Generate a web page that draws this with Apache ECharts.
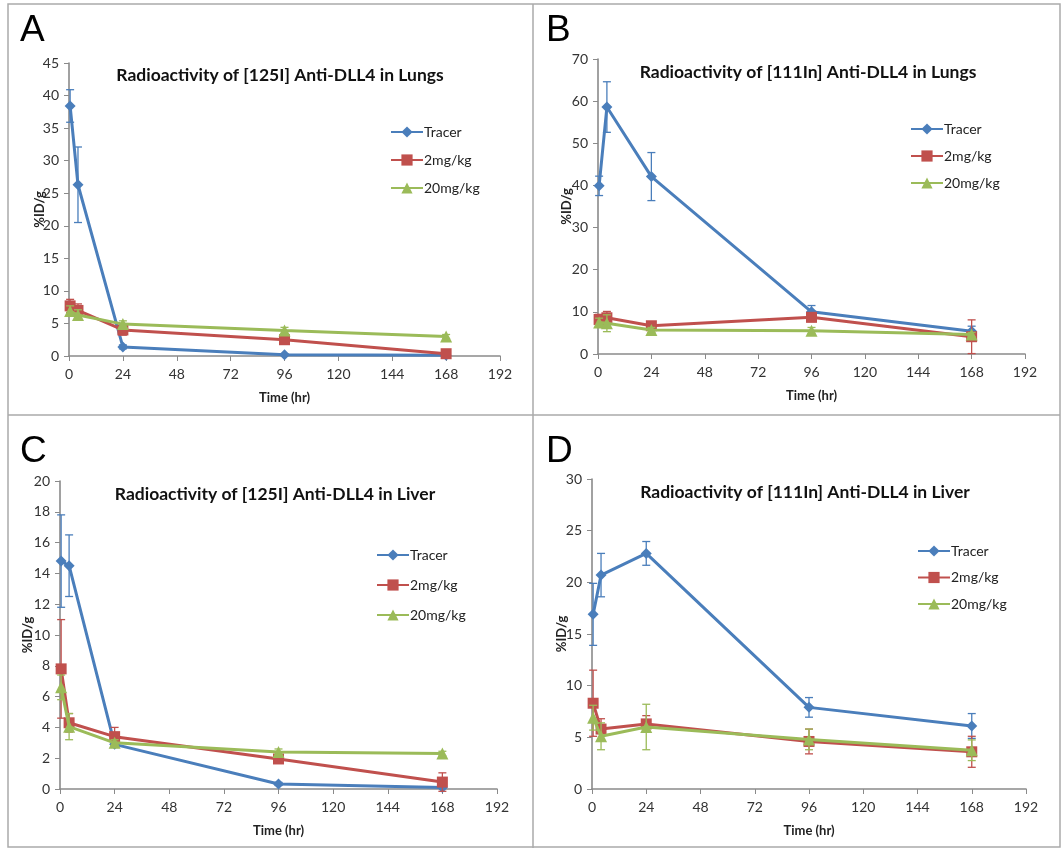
<!DOCTYPE html>
<html>
<head>
<meta charset="utf-8">
<script src="https://cdn.jsdelivr.net/npm/echarts@6/dist/echarts.min.js"></script>
<style>
  html, body { margin: 0; padding: 0; background: #fff; }
  #chart { width: 1062px; height: 848px; }
</style>
</head>
<body>
<div id="chart"></div>
<script>
// time points (hr)
var timePts = [0.5, 4, 24, 96, 168];
var seriesNames = ['Tracer', '2mg/kg', '20mg/kg'];

// A - [125I] lungs
var aTracer = [38.4, 26.3, 1.4, 0.2, 0.1];
var aTracerErr = [2.5, 5.8, 0.3, 0.1, 0.05];
var a2mg = [7.7, 7.0, 4.0, 2.5, 0.35];
var a2mgErr = [1.0, 1.0, 0.8, 0.3, 0.2];
var a20mg = [6.9, 6.3, 4.9, 3.9, 3.0];
var a20mgErr = [0.8, 0.8, 0.5, 0.5, 0.3];

// B - [111In] lungs
var bTracer = [39.9, 58.6, 42.1, 10.0, 5.4];
var bTracerErr = [2.3, 6.0, 5.7, 1.5, 1.2];
var b2mg = [8.2, 8.6, 6.7, 8.7, 4.1];
var b2mgErr = [1.2, 1.5, 0.6, 1.0, 4.0];
var b20mg = [7.5, 7.3, 5.7, 5.5, 4.6];
var b20mgErr = [1.0, 2.0, 0.6, 0.8, 0.5];

// C - [125I] liver
var cTracer = [14.8, 14.5, 2.9, 0.33, 0.1];
var cTracerErr = [3.0, 2.0, 0.2, 0.1, 0.05];
var c2mg = [7.8, 4.3, 3.4, 1.95, 0.45];
var c2mgErr = [3.2, 0.6, 0.6, 0.2, 0.6];
var c20mg = [6.6, 4.05, 3.0, 2.4, 2.3];
var c20mgErr = [0.8, 0.85, 0.2, 0.2, 0.15];

// D - [111In] liver
var dTracer = [16.9, 20.7, 22.8, 7.9, 6.1];
var dTracerErr = [3.0, 2.1, 1.15, 0.95, 1.2];
var d2mg = [8.3, 5.8, 6.3, 4.6, 3.6];
var d2mgErr = [3.2, 1.0, 0.8, 1.2, 1.5];
var d20mg = [6.9, 5.1, 6.0, 4.8, 3.75];
var d20mgErr = [1.2, 1.3, 2.2, 1.0, 1.0];

var xTicks = [0, 24, 48, 72, 96, 120, 144, 168, 192];

var colors = ['#4a7ebb', '#c0504d', '#9bbb59'];
var symbols = ['diamond', 'rect', 'triangle'];
var symSizes = [11, 11, 12];
var font = 'Lato, "Open Sans", sans-serif';

var panels = [
  { letter: 'A', title: 'Radioactivity of [125I] Anti-DLL4 in Lungs', yMax: 45, yStep: 5,
    grid: { left: 69, top: 63, width: 431, height: 293 }, titleX: 275, titleY: 61, nameGap: 23,
    legend: { left: 385, top: 120, itemGap: 14 },
    vals: [aTracer, a2mg, a20mg], errs: [aTracerErr, a2mgErr, a20mgErr], lx: 20, ly: 12 },
  { letter: 'B', title: 'Radioactivity of [111In] Anti-DLL4 in Lungs', yMax: 70, yStep: 10,
    grid: { left: 598, top: 59, width: 427, height: 295 }, titleX: 803, titleY: 58, nameGap: 25,
    legend: { left: 905, top: 117, itemGap: 13 },
    vals: [bTracer, b2mg, b20mg], errs: [bTracerErr, b2mgErr, b20mgErr], lx: 546, ly: 12 },
  { letter: 'C', title: 'Radioactivity of [125I] Anti-DLL4 in Liver', yMax: 20, yStep: 2,
    grid: { left: 60, top: 481, width: 437, height: 308 }, titleX: 270, titleY: 480, nameGap: 26,
    legend: { left: 371, top: 543, itemGap: 16 },
    vals: [cTracer, c2mg, c20mg], errs: [cTracerErr, c2mgErr, c20mgErr], lx: 20, ly: 433 },
  { letter: 'D', title: 'Radioactivity of [111In] Anti-DLL4 in Liver', yMax: 30, yStep: 5,
    grid: { left: 592, top: 479, width: 434, height: 310 }, titleX: 800, titleY: 478, nameGap: 24,
    legend: { left: 912, top: 539, itemGap: 12.5 },
    vals: [dTracer, d2mg, d20mg], errs: [dTracerErr, d2mgErr, d20mgErr], lx: 546, ly: 433 }
];

function errorRender(params, api) {
  var x = api.value(0);
  var lo = api.coord([x, api.value(1)]);
  var hi = api.coord([x, api.value(2)]);
  var w = 4;
  var style = { stroke: api.visual('color'), lineWidth: 1.3 };
  return {
    type: 'group',
    children: [
      { type: 'line', shape: { x1: lo[0], y1: lo[1], x2: hi[0], y2: hi[1] }, style: style },
      { type: 'line', shape: { x1: lo[0] - w, y1: lo[1], x2: lo[0] + w, y2: lo[1] }, style: style },
      { type: 'line', shape: { x1: hi[0] - w, y1: hi[1], x2: hi[0] + w, y2: hi[1] }, style: style }
    ]
  };
}

var axisGray = '#8a8a8a';
var option = {
  backgroundColor: '#fff',
  animation: false,
  title: [], grid: [], xAxis: [], yAxis: [], legend: [], series: [],
  graphic: [
    { type: 'rect', shape: { x: 8, y: 4, width: 1052, height: 843 }, style: { fill: 'none', stroke: '#aaa', lineWidth: 1.5 } },
    { type: 'line', shape: { x1: 533, y1: 4, x2: 533, y2: 848 }, style: { stroke: '#aaa', lineWidth: 1.5 } },
    { type: 'line', shape: { x1: 8, y1: 415, x2: 1060, y2: 415 }, style: { stroke: '#aaa', lineWidth: 1.5 } }
  ]
};

panels.forEach(function (p, i) {
  option.graphic.push({
    type: 'text', left: p.lx, top: p.ly,
    style: { text: p.letter, font: '37px "Liberation Sans", Arial, sans-serif', fill: '#000' }
  });
  option.title.push({
    text: p.title, left: p.titleX, top: p.titleY, textAlign: 'center',
    textStyle: { fontFamily: font, fontSize: 17.5, fontWeight: 'bold', color: '#111' }
  });
  option.grid.push(p.grid);
  option.xAxis.push({
    type: 'value', gridIndex: i, min: 0, max: 192, interval: 24,
    name: 'Time (hr)', nameLocation: 'middle', nameGap: 35,
    nameTextStyle: { fontFamily: font, fontSize: 13, fontWeight: 'bold', color: '#222' },
    axisLine: { lineStyle: { color: axisGray, width: 1.6 } },
    axisTick: { show: true, length: 5, lineStyle: { color: axisGray } },
    axisLabel: { fontFamily: font, fontSize: 14, color: '#333', margin: 11,
      formatter: function (v) { return xTicks.indexOf(v) >= 0 ? String(v) : ''; } },
    splitLine: { show: false }
  });
  option.yAxis.push({
    type: 'value', gridIndex: i, min: 0, max: p.yMax, interval: p.yStep,
    name: '%ID/g', nameLocation: 'middle', nameGap: p.nameGap, nameRotate: 90,
    nameMoveOverlap: false,
    nameTextStyle: { fontFamily: font, fontSize: 13, fontWeight: 'bold', color: '#222' },
    axisLine: { show: true, lineStyle: { color: axisGray, width: 1.6 } },
    axisTick: { show: true, length: 5, lineStyle: { color: axisGray } },
    axisLabel: { fontFamily: font, fontSize: 14, color: '#333', margin: 10 },
    splitLine: { show: false }
  });
  option.legend.push({
    orient: 'vertical', left: p.legend.left, top: p.legend.top,
    itemGap: p.legend.itemGap, itemWidth: 32, itemHeight: 14,
    data: seriesNames.slice(),
    textStyle: { fontFamily: font, fontSize: 14, color: '#222', padding: [0, 0, 0, -4] },
    selectedMode: false
  });
  seriesNames.forEach(function (name, k) {
    var vals = p.vals[k], errs = p.errs[k];
    option.series.push({
      name: name, type: 'line', xAxisIndex: i, yAxisIndex: i,
      data: timePts.map(function (t, j) { return [t, vals[j]]; }),
      symbol: symbols[k], symbolSize: symSizes[k], showSymbol: true,
      lineStyle: { color: colors[k], width: 3 },
      itemStyle: { color: colors[k] },
      z: 3 + k
    });
    option.series.push({
      name: name + ' err', type: 'custom', xAxisIndex: i, yAxisIndex: i,
      renderItem: errorRender,
      itemStyle: { color: colors[k] },
      data: timePts.map(function (t, j) { return [t, vals[j] - errs[j], vals[j] + errs[j]]; }),
      z: 3 + k
    });
  });
});

var chart = echarts.init(document.getElementById('chart'));
chart.setOption(option);
</script>
</body>
</html>
